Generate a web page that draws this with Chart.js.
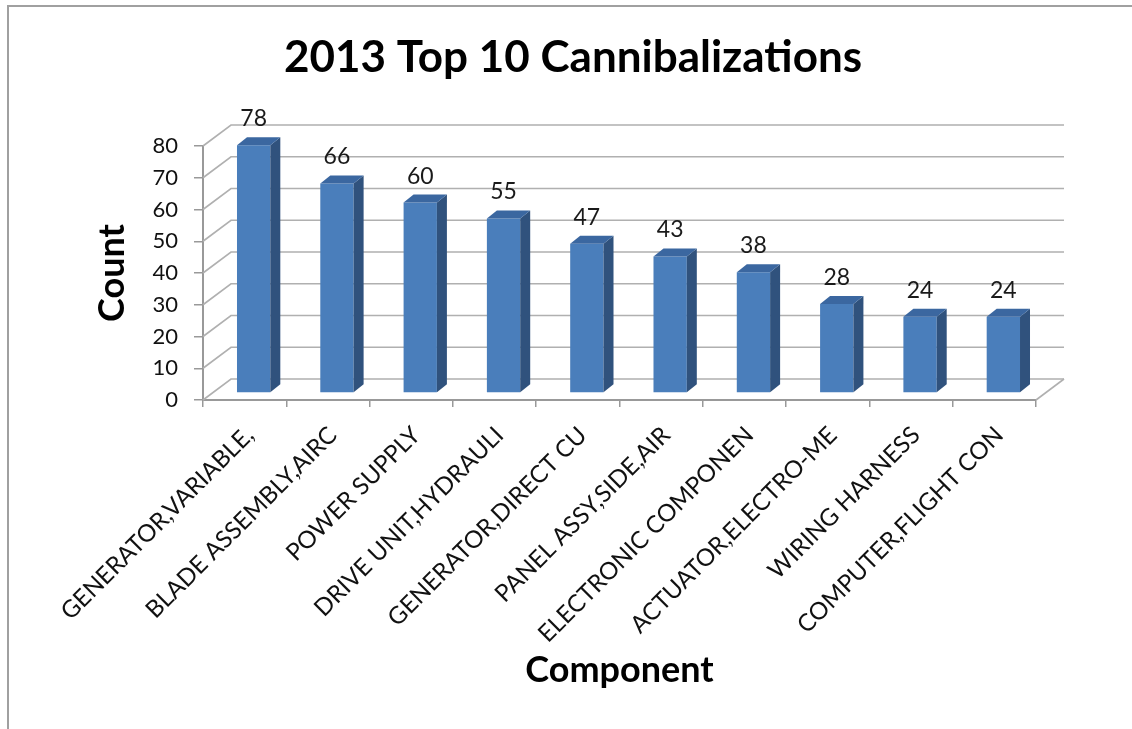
<!DOCTYPE html>
<html>
<head>
<meta charset="utf-8">
<title>2013 Top 10 Cannibalizations</title>
<script src="https://cdn.jsdelivr.net/npm/chart.js@4.4.0/dist/chart.umd.min.js"></script>
<style>
    html, body { margin: 0; padding: 0; background: #fff; overflow: hidden; }
    #wrap { width: 1132px; height: 729px; }
    canvas { display: block; }
</style>
</head>
<body>
<div id="wrap"><canvas id="chart" width="1132" height="729"></canvas></div>
<script>
const chartTitle = '2013 Top 10 Cannibalizations';
const categories = [
    'GENERATOR,VARIABLE,',
    'BLADE ASSEMBLY,AIRC',
    'POWER SUPPLY',
    'DRIVE UNIT,HYDRAULI',
    'GENERATOR,DIRECT CU',
    'PANEL ASSY,SIDE,AIR',
    'ELECTRONIC COMPONEN',
    'ACTUATOR,ELECTRO-ME',
    'WIRING HARNESS',
    'COMPUTER,FLIGHT CON'
];
const counts = [78, 66, 60, 55, 47, 43, 38, 28, 24, 24];
const yTicks = [0, 10, 20, 30, 40, 50, 60, 70, 80];

const FONT = 'Lato, "Open Sans", sans-serif';
const frontColor = '#4a7ebb';
const sideColor = '#30527d';
const topColor = '#3b67a0';
const gridColor = '#b0b0b0';
const axisColor = '#999999';

// 3D look: back wall offset, bar plane offset, bar depth
const wallDepth = { x: 28, y: -21 };
const barShift = { x: 9, y: -7 };
const barDepth = { x: 10, y: -8 };

const frame = {
    id: 'frame',
    beforeDraw(chart) {
        const ctx = chart.ctx;
        ctx.save();
        ctx.fillStyle = '#fff';
        ctx.fillRect(0, 0, chart.width, chart.height);
        ctx.strokeStyle = '#a0a0a0';
        ctx.lineWidth = 2;
        ctx.beginPath();
        ctx.moveTo(8, chart.height);
        ctx.lineTo(8, 6);
        ctx.lineTo(chart.width, 6);
        ctx.stroke();
        ctx.restore();
    },
    afterDraw(chart) {
        // title sits over the whole plot incl. the 3D back wall
        const ctx = chart.ctx;
        ctx.save();
        ctx.fillStyle = '#000';
        ctx.font = 'bold 44px ' + FONT;
        ctx.textAlign = 'center';
        ctx.textBaseline = 'alphabetic';
        ctx.fillText(chartTitle, 573, 72);
        ctx.restore();
    }
};

const threeD = {
    id: 'threeD',
    beforeDatasetsDraw(chart) {
        const { ctx, scales: { x, y } } = chart;
        ctx.save();
        ctx.strokeStyle = gridColor;
        ctx.lineWidth = 1.6;
        yTicks.forEach(v => {
            const py = y.getPixelForValue(v);
            ctx.beginPath();
            ctx.moveTo(x.left, py);
            ctx.lineTo(x.left + wallDepth.x, py + wallDepth.y);
            ctx.lineTo(x.right + wallDepth.x, py + wallDepth.y);
            ctx.stroke();
        });
        const p0 = y.getPixelForValue(0);
        ctx.beginPath();
        ctx.moveTo(x.right, p0);
        ctx.lineTo(x.right + wallDepth.x, p0 + wallDepth.y);
        ctx.stroke();
        ctx.restore();

        ctx.save();
        ctx.translate(barShift.x, barShift.y);
    },
    afterDatasetsDraw(chart) {
        const ctx = chart.ctx;
        const meta = chart.getDatasetMeta(0);
        meta.data.forEach((bar, i) => {
            const { x: cx, y: top, base, width } = bar.getProps(['x', 'y', 'base', 'width'], true);
            const l = cx - width / 2;
            const r = cx + width / 2;

            ctx.fillStyle = sideColor;
            ctx.beginPath();
            ctx.moveTo(r, top);
            ctx.lineTo(r + barDepth.x, top + barDepth.y);
            ctx.lineTo(r + barDepth.x, base + barDepth.y);
            ctx.lineTo(r, base);
            ctx.closePath();
            ctx.fill();

            ctx.fillStyle = topColor;
            ctx.beginPath();
            ctx.moveTo(l, top);
            ctx.lineTo(l + barDepth.x, top + barDepth.y);
            ctx.lineTo(r + barDepth.x, top + barDepth.y);
            ctx.lineTo(r, top);
            ctx.closePath();
            ctx.fill();

            ctx.fillStyle = '#1a1a1a';
            ctx.font = '23px ' + FONT;
            ctx.textAlign = 'center';
            ctx.textBaseline = 'alphabetic';
            ctx.fillText(String(counts[i]), cx, top - 19);
        });
        ctx.restore();
    }
};

const chart = new Chart(document.getElementById('chart'), {
    type: 'bar',
    data: {
        labels: categories,
        datasets: [{
            label: 'Count',
            data: counts,
            backgroundColor: frontColor,
            borderWidth: 0,
            barPercentage: 0.4,
            categoryPercentage: 1
        }]
    },
    options: {
        responsive: false,
        animation: false,
        layout: { padding: { left: 0, right: 96, top: 146, bottom: 0 } },
        plugins: {
            legend: { display: false },
            tooltip: { enabled: false },
            title: { display: false }
        },
        scales: {
            x: {
                afterFit(scale) { scale.height = 329; },
                grid: {
                    offset: true,
                    drawOnChartArea: false,
                    drawTicks: true,
                    tickLength: 7,
                    color: axisColor,
                    lineWidth: 1.5
                },
                border: { color: axisColor, width: 2 },
                ticks: {
                    autoSkip: false,
                    maxRotation: 45,
                    minRotation: 45,
                    padding: 14,
                    labelOffset: 5,
                    color: '#111',
                    font: { family: FONT, size: 24 }
                },
                title: {
                    display: true,
                    text: 'Component',
                    color: '#000',
                    font: { family: FONT, size: 36, weight: 'bold', lineHeight: 1.2 },
                    padding: { top: 0, bottom: 37 }
                }
            },
            y: {
                min: 0,
                max: 80,
                afterFit(scale) { scale.width = 203; },
                afterBuildTicks(scale) { scale.ticks = yTicks.map(v => ({ value: v })); },
                grid: {
                    drawOnChartArea: false,
                    drawTicks: true,
                    tickLength: 9,
                    color: axisColor,
                    lineWidth: 1.5
                },
                border: { color: axisColor, width: 2 },
                ticks: {
                    padding: 16,
                    color: '#111',
                    font: { family: FONT, size: 22 }
                },
                title: {
                    display: true,
                    text: 'Count',
                    color: '#000',
                    font: { family: FONT, size: 36, weight: 'bold', lineHeight: 1.2 },
                    padding: { top: 91, bottom: 0 }
                }
            }
        }
    },
    plugins: [frame, threeD]
});
</script>
</body>
</html>
